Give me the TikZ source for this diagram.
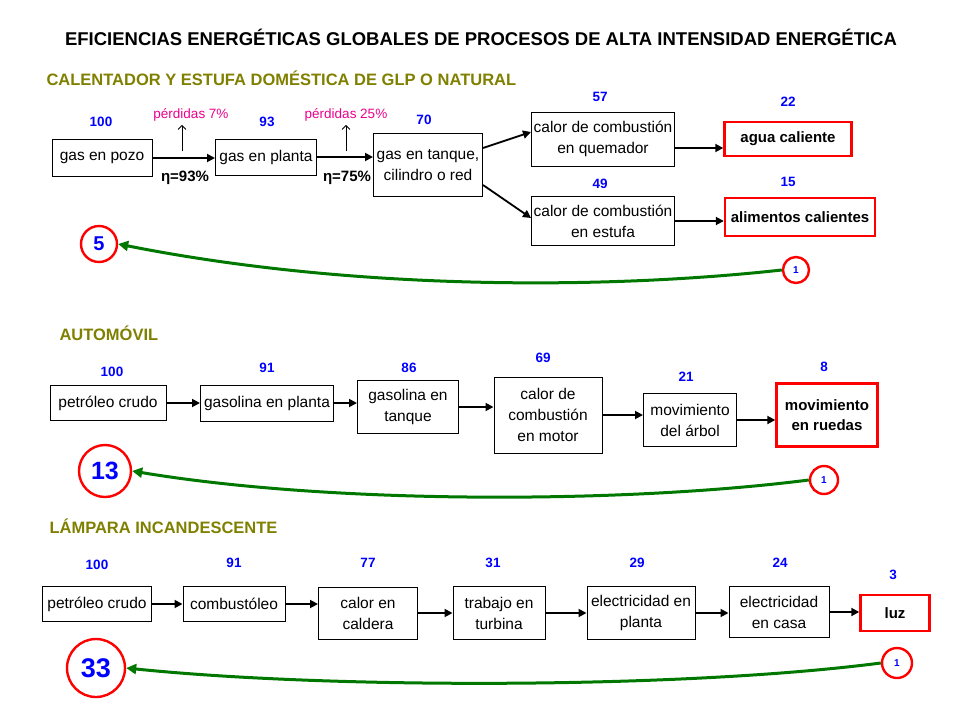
\documentclass[tikz,border=0pt]{standalone}
\usepackage{fontspec}
\setmainfont{Liberation Sans}
\usetikzlibrary{arrows.meta}

\definecolor{olivo}{RGB}{128,128,0}
\definecolor{rosa}{RGB}{235,0,140}
\definecolor{verde}{RGB}{0,120,0}

\tikzset{
  caja/.style={draw, line width=1pt, align=center, inner sep=1pt,
    font=\fontsize{15.5}{21}\selectfont},
  final/.style={caja, draw=red, line width=2.4pt,
    font=\bfseries\fontsize{15}{20}\selectfont},
  flujo/.style={-{Triangle[length=8pt,width=8pt]}, line width=1.8pt},
  valor/.style={text=blue, font=\bfseries\fontsize{13.5}{13.5}\selectfont},
  seccion/.style={text=olivo, anchor=west, font=\bfseries\fontsize{16.5}{16.5}\selectfont},
  perdida/.style={text=rosa, font=\fontsize{13.5}{13.5}\selectfont},
  eta/.style={font=\bfseries\fontsize{15}{15}\selectfont},
  anillo/.style={circle, draw=red, line width=2.4pt, text=blue, inner sep=0pt},
  retorno/.style={draw=verde, line width=3pt, -{Triangle[length=10pt,width=10pt]}},
}

\begin{document}
\begin{tikzpicture}[x=1pt, y=-1pt]
  \useasboundingbox (0,0) rectangle (960,720);

  \node[font=\bfseries\fontsize{18.5}{18.5}\selectfont] (titulo) at (481,37)
    {EFICIENCIAS ENERGÉTICAS GLOBALES DE PROCESOS DE ALTA INTENSIDAD ENERGÉTICA};

  % calentador y estufa
  \node[seccion] (sec1) at (43,78) {CALENTADOR Y ESTUFA DOMÉSTICA DE GLP O NATURAL};

  \node[caja, minimum width=100, minimum height=37] (pozo) at (102,158) {gas en pozo};
  \node[caja, minimum width=101, minimum height=36] (planta) at (266,157) {gas en planta};
  \node[caja, minimum width=109, minimum height=63] (tanque) at (428,165) {gas en tanque,\\cilindro o red};
  \node[caja, minimum width=143, minimum height=54] (quem) at (603,139) {calor de combustión\\en quemador};
  \node[caja, minimum width=143, minimum height=49] (estufa) at (603,221) {calor de combustión\\en estufa};
  \node[final, minimum width=127, minimum height=34] (agua) at (788,139) {agua caliente};
  \node[final, minimum width=150, minimum height=38] (alim) at (800,217) {alimentos calientes};

  \foreach \v/\x/\y [count=\i] in {100/101/122, 93/267/122, 70/424/120, 57/600/97,
      22/788/102, 49/600/184, 15/788/182}
    \node[valor] (va\i) at (\x,\y) {\v};

  \node[perdida] (p7) at (191,115) {pérdidas 7\%};
  \node[perdida] (p25) at (346,115) {pérdidas 25\%};
  \node[eta] (e93) at (185,178) {η=93\%};
  \node[eta] (e75) at (347,178) {η=75\%};
  \coordinate (c7) at (182,151);
  \coordinate (c25) at (346,151);
  \draw[-{Straight Barb[length=4pt]}, line width=0.8pt] (c7) -- (c7 |- p7.south);
  \draw[-{Straight Barb[length=4pt]}, line width=0.8pt] (c25) -- (c25 |- p25.south);

  \draw[flujo] (pozo.east) -- (pozo.east -| planta.west);
  \draw[flujo] (planta.east) -- (planta.east -| tanque.west);
  \draw[flujo] ([yshift=17pt]tanque.east) -- ([yshift=7pt]quem.west);
  \draw[flujo] ([yshift=-20pt]tanque.east) -- ([yshift=3pt]estufa.west);
  \draw[flujo] ([yshift=-9pt]quem.east) -- ([yshift=-9pt]agua.west);
  \draw[flujo] (estufa.east) -- (estufa.east -| alim.west);

  \node[anillo, minimum size=36, font=\bfseries\fontsize{20}{20}\selectfont] (r5) at (99,244) {5};
  \node[anillo, minimum size=26, font=\bfseries\fontsize{10}{10}\selectfont] (u1) at (796,270) {1};
  \draw[retorno] (u1.west) .. controls (600,290) and (350,290) .. (r5.east);

  % automovil
  \node[seccion] (sec2) at (56,333) {AUTOMÓVIL};

  \node[caja, minimum width=116, minimum height=35] (crudo) at (108,403) {petróleo crudo};
  \node[caja, minimum width=133, minimum height=36] (gplanta) at (267,403) {gasolina en planta};
  \node[caja, minimum width=101, minimum height=53] (gtanque) at (408,407) {gasolina en\\tanque};
  \node[caja, minimum width=108, minimum height=76] (motor) at (548,415) {calor de\\combustión\\en motor};
  \node[caja, minimum width=93, minimum height=53] (arbol) at (690,420) {movimiento\\del árbol};
  \node[final, minimum width=101, minimum height=63] (ruedas) at (827,415) {movimiento\\en ruedas};

  \foreach \v/\x/\y [count=\i] in {100/112/372, 91/267/368, 86/409/368, 69/543/358,
      21/686/377, 8/824/367}
    \node[valor] (vb\i) at (\x,\y) {\v};

  \draw[flujo] (crudo.east) -- (crudo.east -| gplanta.west);
  \draw[flujo] (gplanta.east) -- (gplanta.east -| gtanque.west);
  \draw[flujo] (gtanque.east) -- (gtanque.east -| motor.west);
  \draw[flujo] (motor.east) -- (motor.east -| arbol.west);
  \draw[flujo] (arbol.east) -- (arbol.east -| ruedas.west);

  \node[anillo, minimum size=52, font=\bfseries\fontsize{25}{25}\selectfont] (r13) at (105,471) {13};
  \node[anillo, minimum size=28, font=\bfseries\fontsize{10}{10}\selectfont] (u2) at (824,480) {1};
  \draw[retorno] (u2.west) .. controls (620,504) and (330,504) .. (r13.east);

  % lampara
  \node[seccion] (sec3) at (46,526) {LÁMPARA INCANDESCENTE};

  \node[caja, minimum width=109, minimum height=35] (crudo2) at (97,604) {petróleo crudo};
  \node[caja, minimum width=102, minimum height=35] (comb) at (234,604) {combustóleo};
  \node[caja, minimum width=99, minimum height=52] (caldera) at (368,613) {calor en\\caldera};
  \node[caja, minimum width=92, minimum height=53] (turbina) at (499,613) {trabajo en\\turbina};
  \node[caja, minimum width=108, minimum height=53] (eplanta) at (641,613) {electricidad en\\planta};
  \node[caja, minimum width=100, minimum height=51] (casa) at (779,612) {electricidad\\en casa};
  \node[final, minimum width=69, minimum height=36] (luz) at (895,613) {luz};

  \foreach \v/\x/\y [count=\i] in {100/97/565, 91/234/563, 77/368/563, 31/493/563,
      29/637/563, 24/780/563, 3/893/575}
    \node[valor] (vc\i) at (\x,\y) {\v};

  \draw[flujo] (crudo2.east) -- (crudo2.east -| comb.west);
  \draw[flujo] (comb.east) -- (comb.east -| caldera.west);
  \draw[flujo] (caldera.east) -- (caldera.east -| turbina.west);
  \draw[flujo] (turbina.east) -- (turbina.east -| eplanta.west);
  \draw[flujo] (eplanta.east) -- (eplanta.east -| casa.west);
  \draw[flujo] (casa.east) -- (casa.east -| luz.west);

  \node[anillo, minimum size=58, font=\bfseries\fontsize{27}{27}\selectfont] (r33) at (96,668) {33};
  \node[anillo, minimum size=30, font=\bfseries\fontsize{10}{10}\selectfont] (u3) at (897,663) {1};
  \draw[retorno] (u3.west) .. controls (680,689) and (330,689) .. (r33.east);

\end{tikzpicture}
\end{document}
